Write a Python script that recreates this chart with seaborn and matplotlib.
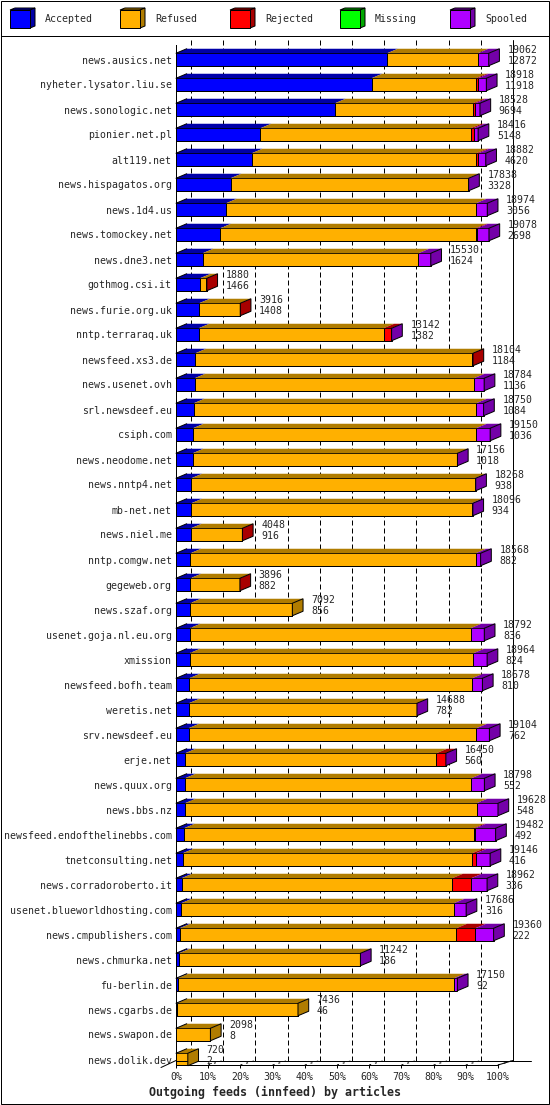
import matplotlib
matplotlib.use("Agg")
import matplotlib.pyplot as plt
import seaborn as sns
import numpy as np
import pandas as pd
from matplotlib.patches import Polygon, Rectangle

# feeds, top to bottom
hosts = [
    "news.ausics.net", "nyheter.lysator.liu.se", "news.sonologic.net", "pionier.net.pl",
    "alt119.net", "news.hispagatos.org", "news.1d4.us", "news.tomockey.net", "news.dne3.net",
    "gothmog.csi.it", "news.furie.org.uk", "nntp.terraraq.uk", "newsfeed.xs3.de",
    "news.usenet.ovh", "srl.newsdeef.eu", "csiph.com", "news.neodome.net", "news.nntp4.net",
    "mb-net.net", "news.niel.me", "nntp.comgw.net", "gegeweb.org", "news.szaf.org",
    "usenet.goja.nl.eu.org", "xmission", "newsfeed.bofh.team", "weretis.net",
    "srv.newsdeef.eu", "erje.net", "news.quux.org", "news.bbs.nz",
    "newsfeed.endofthelinebbs.com", "tnetconsulting.net", "news.corradoroberto.it",
    "usenet.blueworldhosting.com", "news.cmpublishers.com", "news.chmurka.net",
    "fu-berlin.de", "news.cgarbs.de", "news.swapon.de", "news.dolik.dev",
]
totals = [19062, 18918, 18528, 18416, 18882, 17838, 18974, 19078, 15530, 1880, 3916,
          13142, 18104, 18784, 18750, 19150, 17156, 18268, 18096, 4048, 18568, 3896,
          7092, 18792, 18964, 18678, 14688, 19104, 16450, 18798, 19628, 19482, 19146,
          18962, 17686, 19360, 11242, 17150, 7436, 2098, 720]
accepted = [12872, 11918, 9694, 5148, 4620, 3328, 3056, 2698, 1624, 1466, 1408, 1382,
            1184, 1136, 1084, 1036, 1018, 938, 934, 916, 882, 882, 856, 836, 824, 810,
            782, 762, 560, 552, 548, 492, 416, 336, 316, 222, 186, 92, 46, 8, 2]
refused = [5525, 6362, 8416, 12819, 13683, 14460, 15233, 15572, 13155, 380, 2488, 11270,
           16880, 17027, 17216, 17257, 16118, 17270, 17082, 3118, 17386, 2994, 6236,
           17120, 17304, 17247, 13886, 17549, 15312, 17453, 17776, 17644, 17640, 16505,
           16621, 16867, 11036, 16865, 7390, 2090, 718]
rejected = [0, 128, 129, 171, 129, 0, 0, 100, 0, 34, 20, 470, 40, 0, 0, 0, 0, 0, 0, 14,
            0, 20, 0, 0, 0, 0, 0, 0, 558, 0, 0, 106, 235, 1157, 0, 1157, 0, 0, 0, 0, 0]
missing = [0, 0, 0, 0, 0, 0, 0, 0, 0, 0, 0, 0, 0, 0, 0, 0, 0, 0, 0, 0, 0, 0, 0, 0, 0, 0,
           0, 0, 0, 0, 0, 0, 0, 0, 0, 0, 0, 0, 0, 0, 0]
spooled = [665, 510, 289, 278, 450, 50, 685, 708, 751, 0, 0, 20, 0, 621, 450, 857, 20, 60,
           80, 0, 300, 0, 0, 836, 836, 621, 20, 793, 20, 793, 1304, 1240, 855, 964, 749,
           1114, 20, 193, 0, 0, 0]

series = ["Accepted", "Refused", "Rejected", "Missing", "Spooled"]
colors = ["#0000ff", "#ffb000", "#ff0000", "#00ff00", "#b000ff"]
dark = ["#0000a8", "#b07c00", "#a80000", "#00a800", "#7400a8"]
xticks = [0, 10, 20, 30, 40, 50, 60, 70, 80, 90, 100]

sns.set_style("white")
plt.rcParams['font.family'] = ['DejaVu Sans Mono']
FS = 7.15
LW = 0.72

df = pd.DataFrame({"host": hosts, "Accepted": accepted, "Refused": refused,
                   "Rejected": rejected, "Missing": missing, "Spooled": spooled})
n = len(df)
scale = 100.0 / max(totals)
vals = df[series].to_numpy(dtype=float) * scale
ends = np.cumsum(vals, axis=1)
starts = ends - vals

# page geometry in pixels
W, H = 550, 1105
x0_px, x1_px = 176, 498
top_px, floor_px = 45, 1065
row0_px, row_step = 59.5, 25.0
px_pct = (x1_px - x0_px) / 100.0

fig = plt.figure(figsize=(W / 100, H / 100), dpi=100)

# frame + legend
lax = fig.add_axes([0, 0, 1, 1], zorder=-1)
lax.set_xlim(0, W)
lax.set_ylim(H, 0)
lax.axis("off")
lax.add_patch(Rectangle((0.5, 0.5), W - 2, H - 1.5, fill=False, edgecolor="black", lw=LW))
lax.plot([0.5, W - 1.5], [35.5, 35.5], color="black", lw=LW)
for j, name in enumerate(series):
    lx = 10 + 110 * j
    lax.add_patch(Polygon([(lx, 10), (lx + 20, 10), (lx + 25, 8), (lx + 5, 8)],
                          facecolor=dark[j], edgecolor="black", lw=LW))
    lax.add_patch(Polygon([(lx + 20, 10), (lx + 20, 28), (lx + 25, 26), (lx + 25, 8)],
                          facecolor=dark[j], edgecolor="black", lw=LW))
    lax.add_patch(Rectangle((lx, 10), 20, 18, facecolor=colors[j], edgecolor="black", lw=LW))
    lax.text(lx + 35, 19.5, name, fontsize=FS, va="center", ha="left")

ax = fig.add_axes([x0_px / W, 1 - floor_px / H, (x1_px - x0_px) / W,
                   (floor_px - top_px) / H])
ax.patch.set_alpha(0)

# front faces: overlapping cumulative bars, longest first
cum = pd.DataFrame(ends, columns=series)
for k in reversed(range(len(series))):
    sns.barplot(x=cum[series[k]], y=df["host"], orient="h", color=colors[k],
                saturation=1, width=0.5, edgecolor="black", linewidth=LW,
                errorbar=None, ax=ax)

y_bot = (floor_px - row0_px) / row_step
y_top = (top_px - row0_px) / row_step
ax.set_xlim(0, 100)
ax.set_ylim(y_bot, y_top)

dxb, dyb = 10.7 / px_pct, 4.5 / row_step
dxg, dyg = 15 / px_pct, 4.5 / row_step
hb = 0.25

# 3d top and side faces
for i in range(n):
    nz = [k for k in range(len(series)) if vals[i, k] > 0]
    for k in nz:
        s, e = starts[i, k], ends[i, k]
        ax.add_patch(Polygon([(s, i - hb), (e, i - hb), (e + dxb, i - hb - dyb),
                              (s + dxb, i - hb - dyb)], facecolor=dark[k],
                             edgecolor="none", clip_on=False, zorder=2))
    last = nz[-1]
    e = ends[i, last]
    ax.plot([0, dxb], [i - hb, i - hb - dyb], color="black", lw=LW,
            clip_on=False, zorder=2.1)
    ax.add_patch(Polygon([(e, i - hb), (e, i + hb), (e + dxb, i + hb - dyb),
                          (e + dxb, i - hb - dyb)], facecolor=dark[last],
                         edgecolor="black", lw=LW, clip_on=False, zorder=2.1))
    tx = e + dxb + 8 / px_pct
    ax.text(tx, i - 0.38, str(totals[i]), fontsize=FS, va="center", ha="left")
    ax.text(tx, i + 0.06, str(accepted[i]), fontsize=FS, va="center", ha="left")

# back wall gridlines and floor
y_back = y_bot - dyg
y_gtop = (40 - row0_px) / row_step
for t in xticks[:-1]:
    ax.plot([t + dxg, t + dxg], [y_gtop, y_back], color="black", lw=LW,
            ls=(0, (5, 3)), zorder=0.5, clip_on=False)
for t in xticks:
    ax.plot([t, t + dxg], [y_bot, y_back], color="black", lw=LW,
            ls=(0, (2, 4)), zorder=0.5, clip_on=False)
ax.plot([100 + dxg, 100 + dxg], [y_gtop, y_back], color="black", lw=LW,
        zorder=0.5, clip_on=False)
ax.plot([0, 110.2], [y_back, y_back], color="black", lw=LW, clip_on=False)
ax.plot([-dxg, 0], [y_bot + 0.1, y_back], color="black", lw=LW, clip_on=False)
ax.plot([100, 100 + dxg], [y_bot, y_back], color="black", lw=LW, clip_on=False)

for side in ["top", "right"]:
    ax.spines[side].set_visible(False)
for side in ["left", "bottom"]:
    ax.spines[side].set_color("black")
    ax.spines[side].set_linewidth(LW)

ax.set_xticks(xticks)
ax.set_xticklabels([f"{t}%" for t in xticks])
ax.tick_params(axis="x", bottom=True, direction="out", length=2.2, width=LW,
               pad=2.8, labelsize=FS, color="black")
ax.tick_params(axis="y", left=False, length=0, pad=3.0, labelsize=FS)
ax.set_xlabel("")
ax.set_ylabel("")

fig.text(0.5, 1 - 1092 / H, "Outgoing feeds (innfeed) by articles", fontsize=8.4,
         weight="bold", ha="center", va="center")

fig.savefig("out.png", dpi=100)
